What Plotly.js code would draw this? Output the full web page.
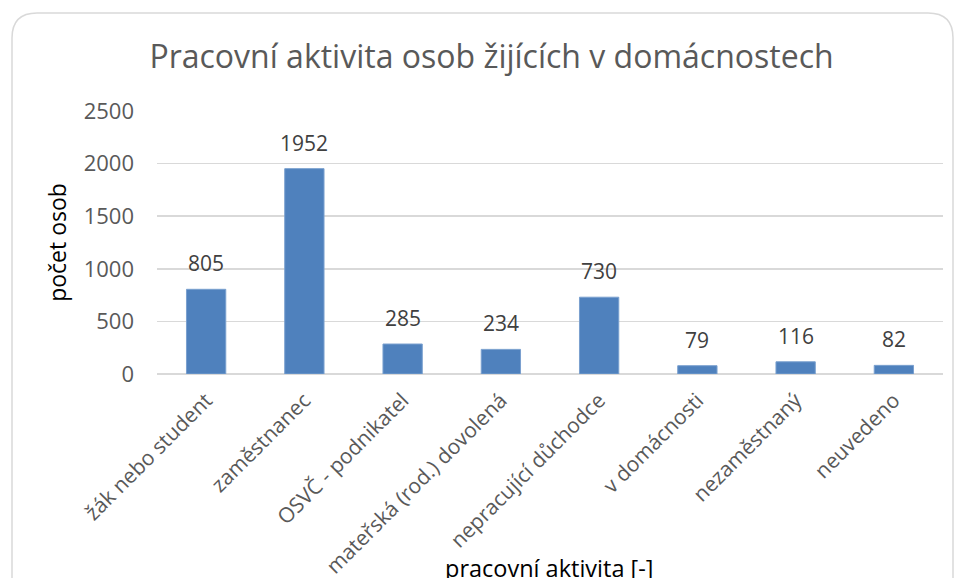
<!DOCTYPE html>
<html>
<head>
<meta charset="utf-8">
<script src="https://cdn.plot.ly/plotly-3.0.1.min.js"></script>
<style>html,body{margin:0;padding:0;background:#fff;}#chart{width:956px;height:578px;}</style>
</head>
<body>
<div id="chart"></div>
<script>
const categories = ["žák nebo student", "zaměstnanec", "OSVČ - podnikatel", "mateřská (rod.) dovolená", "nepracující důchodce", "v domácnosti", "nezaměstnaný", "neuvedeno"];
const counts = [805, 1952, 285, 234, 730, 79, 116, 82];
const yTicks = [0, 500, 1000, 1500, 2000, 2500];

const W = 956, H = 578;
const mL = 157, mR = 13, mT = 111, mB = 204;
const pw = W - mL - mR, ph = H - mT - mB;
const px = v => (v - mL) / pw;
const py = v => (H - mB - v) / ph;

// rounded frame
const fx0 = px(12), fx1 = px(953), fyT = py(13), fyB = py(640);
const rx = 25 / pw, ry = 25 / ph;
const framePath = `M ${fx0 + rx},${fyT} L ${fx1 - rx},${fyT} Q ${fx1},${fyT} ${fx1},${fyT - ry} L ${fx1},${fyB} L ${fx0},${fyB} L ${fx0},${fyT - ry} Q ${fx0},${fyT} ${fx0 + rx},${fyT} Z`;

const font = "'Open Sans', 'Noto Sans', sans-serif";

const labelAnnotations = categories.map((c, i) => ({
  x: c, y: counts[i], xref: 'x', yref: 'y',
  text: String(counts[i]), showarrow: false,
  yanchor: 'bottom', yshift: 10,
  font: {family: font, size: 21, color: '#404040'}
}));

const data = [{
  type: 'bar',
  x: categories,
  y: counts,
  marker: {color: '#4f81bd', line: {color: '#7aa0cf', width: 1}},
  hoverinfo: 'x+y'
}];

const layout = {
  width: W, height: H,
  margin: {l: mL, r: mR, t: mT, b: mB, pad: 0},
  paper_bgcolor: '#ffffff', plot_bgcolor: '#ffffff',
  showlegend: false,
  bargap: 0.6,
  font: {family: font},
  title: {
    text: 'Pracovní aktivita osob žijících v domácnostech',
    font: {family: font, size: 32, color: '#595959'},
    x: (491.5 / W), xanchor: 'center', xref: 'container',
    y: 1 - 57 / H, yanchor: 'middle', yref: 'container'
  },
  xaxis: {
    type: 'category',
    tickangle: -45,
    tickfont: {family: font, size: 21, color: '#595959'},
    showgrid: false, showline: false, zeroline: false,
    ticks: '', ticklabelstandoff: 9,
    fixedrange: true
  },
  yaxis: {
    range: [0, 2500],
    tickvals: yTicks,
    ticktext: yTicks.map(String),
    tickfont: {family: font, size: 22, color: '#595959'},
    showgrid: true, gridcolor: '#d9d9d9', gridwidth: 1.5,
    zeroline: true, zerolinecolor: '#d9d9d9', zerolinewidth: 1.5,
    showline: false, ticks: '', ticklabelstandoff: 22,
    title: {text: 'počet osob', font: {family: font, size: 23, color: '#000000'}, standoff: 10},
    fixedrange: true
  },
  shapes: [{
    type: 'path', xref: 'paper', yref: 'paper', path: framePath,
    line: {color: '#d9d9d9', width: 1.5}, fillcolor: 'rgba(0,0,0,0)', layer: 'below'
  }],
  annotations: labelAnnotations.concat([{
    text: 'pracovní aktivita [-]', showarrow: false,
    xref: 'paper', yref: 'paper', x: px(549), y: py(550),
    xanchor: 'center', yanchor: 'top',
    font: {family: font, size: 23.5, color: '#000000'}
  }])
};

Plotly.newPlot('chart', data, layout, {displayModeBar: false, staticPlot: true});
</script>
</body>
</html>
